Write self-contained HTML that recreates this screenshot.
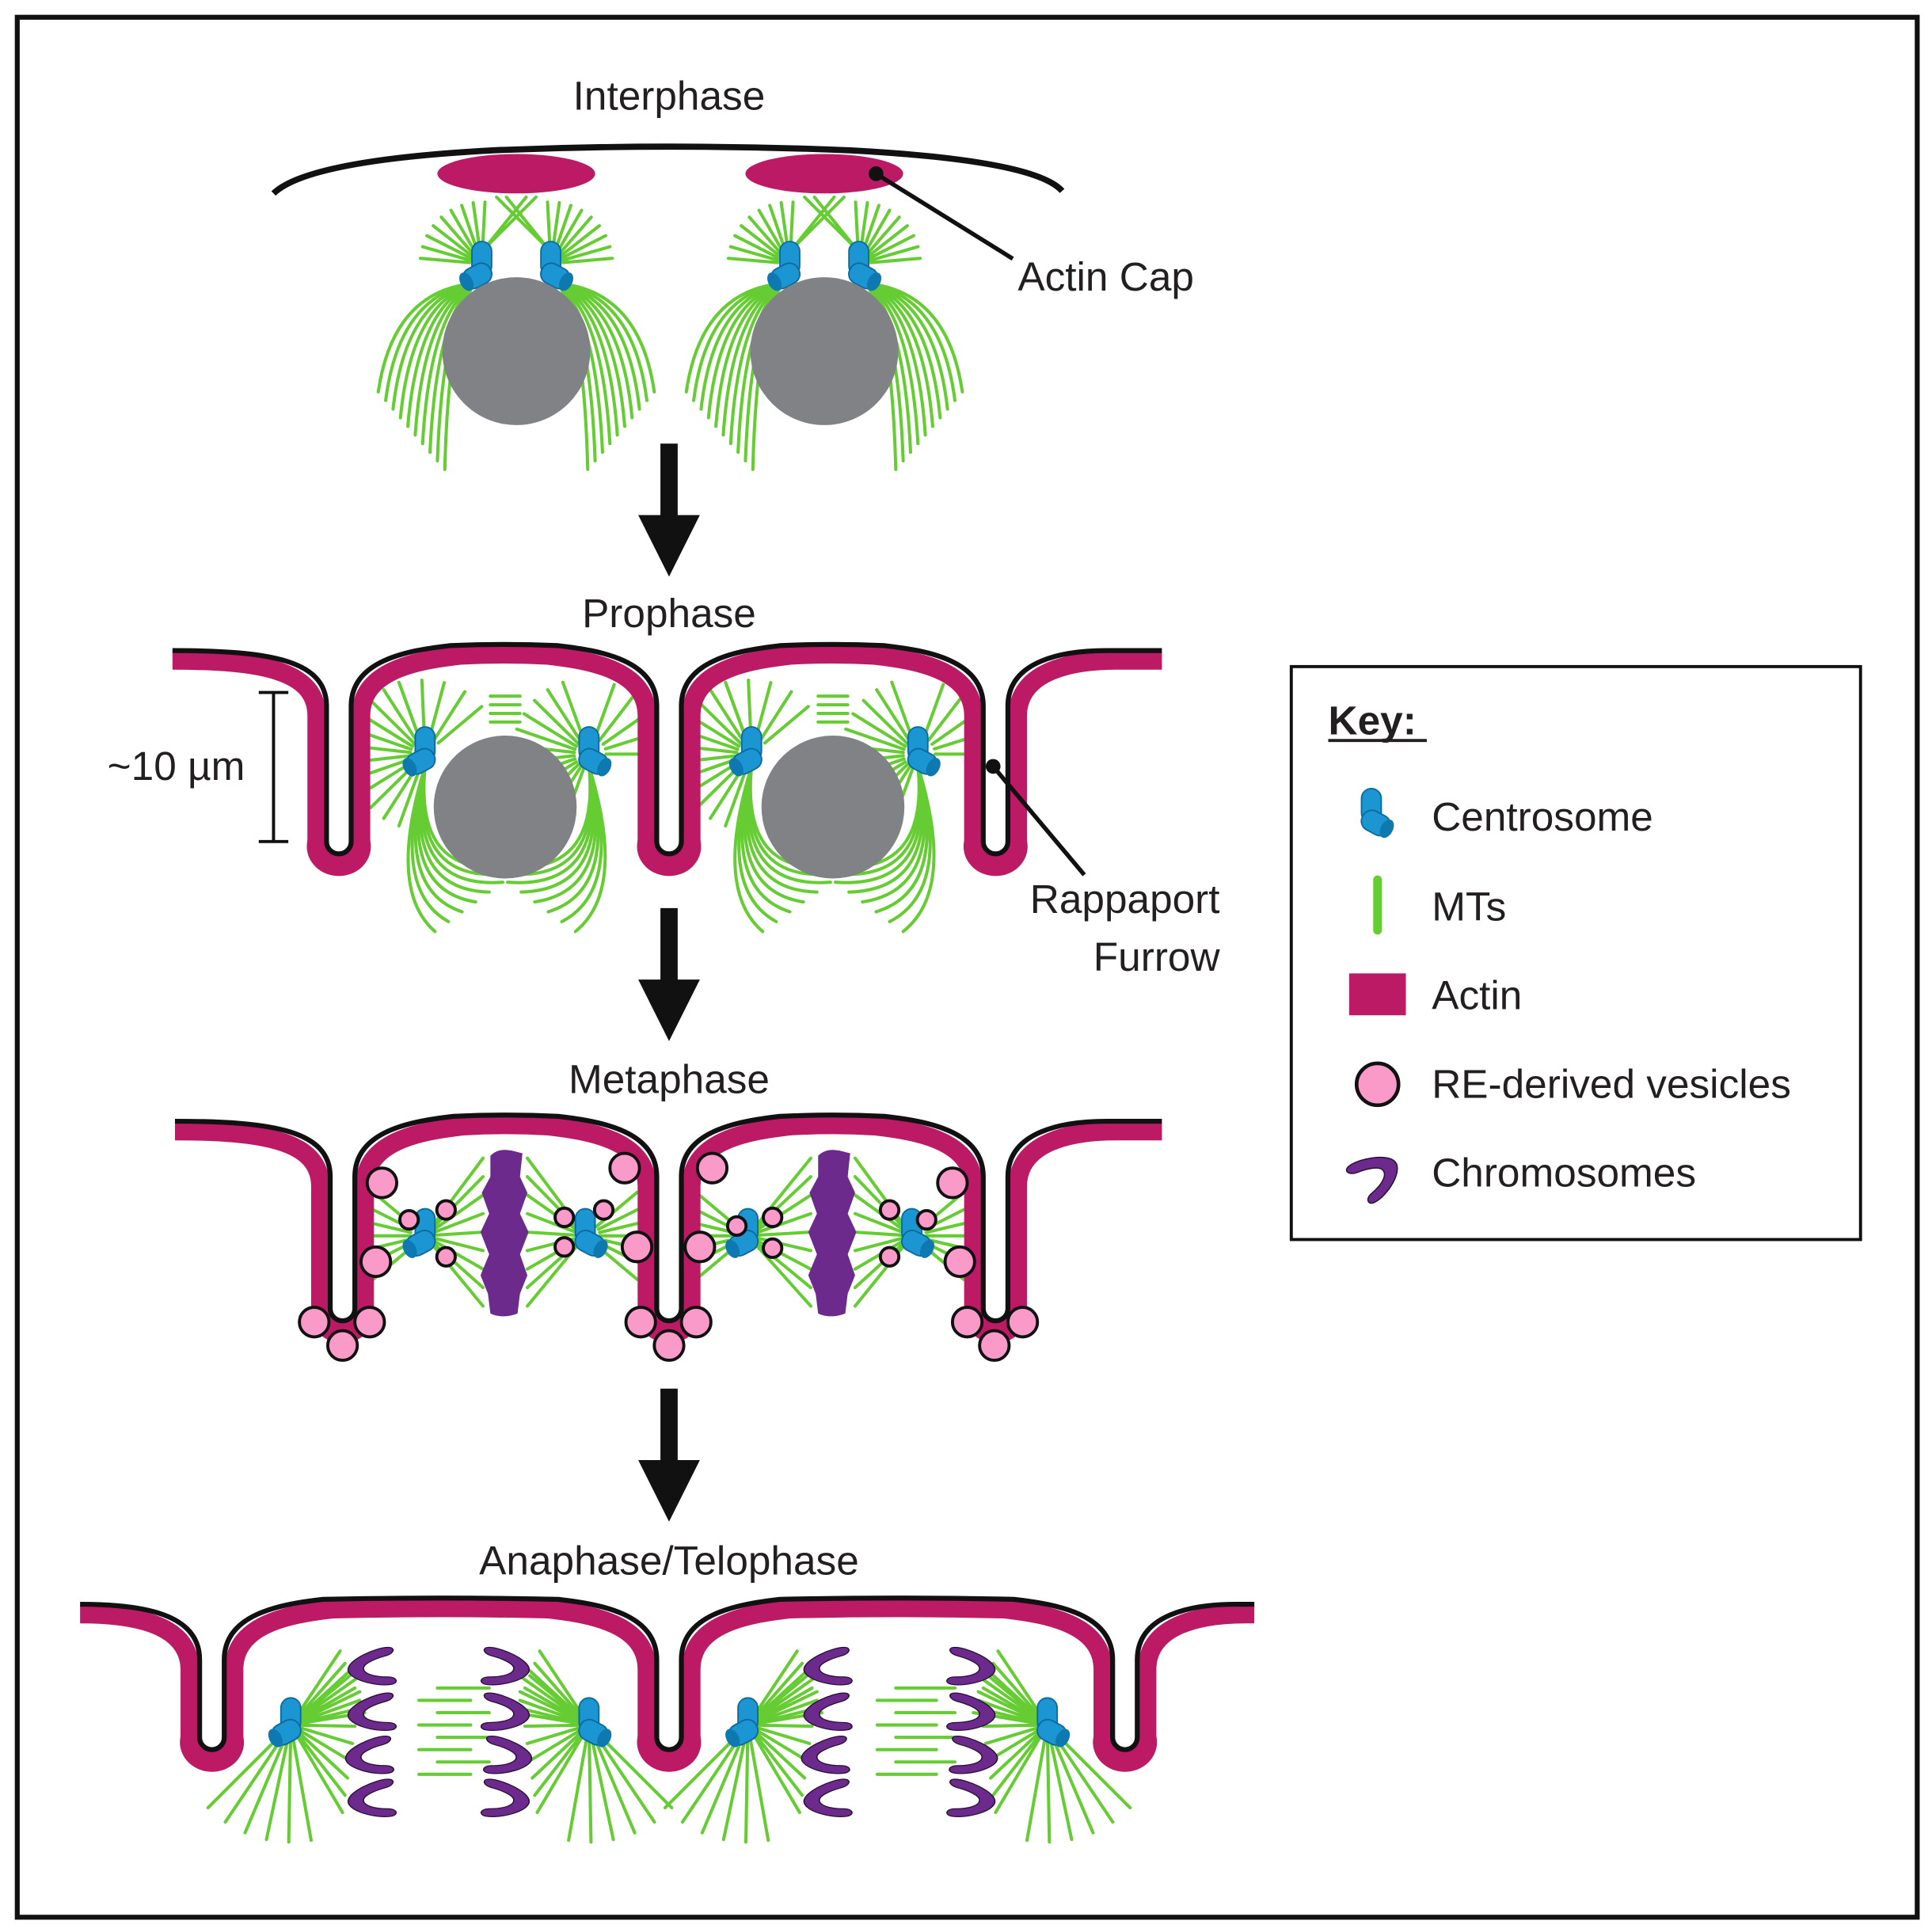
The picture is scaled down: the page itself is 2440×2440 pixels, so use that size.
<!DOCTYPE html>
<html><head><meta charset="utf-8"><style>
html,body{margin:0;padding:0;background:#fff}
svg{display:block}
text{font-family:"Liberation Sans",sans-serif;fill:#231f20}
</style></head><body>
<svg id="s" width="2440" height="2440" viewBox="0 0 1568 1568" xmlns="http://www.w3.org/2000/svg">
<rect x="0" y="0" width="1568" height="1568" fill="#fff"/>
<rect x="14" y="14" width="1542" height="1542" fill="none" stroke="#111" stroke-width="4"/>
<g id="mt" stroke="#66cc33" stroke-width="2.6" fill="none" stroke-linecap="round"></g>
<g id="mem"></g>
<g id="obj"></g>
<text x="543" y="89" font-size="33" text-anchor="middle">Interphase</text>
<ellipse cx="419" cy="141" rx="64" ry="16" fill="#bd1a66"/>
<ellipse cx="669" cy="141" rx="64" ry="16" fill="#bd1a66"/>
<path d="M222,157 Q250,130 400,122 Q543,116 690,122 Q840,130 862,155" fill="none" stroke="#111" stroke-width="5"/>
<line x1="711" y1="141" x2="822" y2="210" stroke="#111" stroke-width="3.5"/>
<circle cx="711" cy="141" r="6" fill="#111"/>
<text x="826" y="236" font-size="33">Actin Cap</text>
<circle cx="419" cy="285" r="60" fill="#808285"/>
<circle cx="669" cy="285" r="60" fill="#808285"/>
<g fill="#111">
<polygon points="536,360 550,360 550,418 568,418 543,468 518,418 536,418"/>
<polygon points="536,737 550,737 550,795 568,795 543,845 518,795 536,795"/>
<polygon points="536,1127 550,1127 550,1185 568,1185 543,1235 518,1185 536,1185"/>
</g>
<text x="543" y="509" font-size="33" text-anchor="middle">Prophase</text>
<circle cx="410" cy="655" r="58" fill="#808285"/>
<circle cx="676" cy="655" r="58" fill="#808285"/>
<g stroke="#111" stroke-width="2.5"><line x1="222" y1="562" x2="222" y2="683"/><line x1="210" y1="562" x2="234" y2="562"/><line x1="210" y1="683" x2="234" y2="683"/></g>
<text x="143" y="633" font-size="33" text-anchor="middle">~10 µm</text>
<text x="990" y="741" font-size="33" text-anchor="end">Rappaport</text>
<text x="990" y="788" font-size="33" text-anchor="end">Furrow</text>
<text x="543" y="887" font-size="33" text-anchor="middle">Metaphase</text>
<text x="543" y="1278" font-size="33" text-anchor="middle">Anaphase/Telophase</text>
<rect x="1048" y="541" width="462" height="465" fill="none" stroke="#111" stroke-width="2.5"/>
<text x="1078" y="596" font-size="33" font-weight="bold">Key:</text>
<line x1="1078" y1="601" x2="1158" y2="601" stroke="#231f20" stroke-width="2.5"/>
<text x="1162" y="674" font-size="33">Centrosome</text>
<text x="1162" y="747" font-size="33">MTs</text>
<text x="1162" y="819" font-size="33">Actin</text>
<text x="1162" y="891" font-size="33">RE-derived vesicles</text>
<text x="1162" y="963" font-size="33">Chromosomes</text>
<line x1="1118" y1="714" x2="1118" y2="755" stroke="#66cc33" stroke-width="7" stroke-linecap="round"/>
<rect x="1095" y="790" width="46" height="34" fill="#bd1a66"/>
<circle cx="1118" cy="880" r="17" fill="#f99ac9" stroke="#111" stroke-width="3"/>
</svg>
<script>
const NS="http://www.w3.org/2000/svg";
const mt=document.getElementById('mt'),mem=document.getElementById('mem'),obj=document.getElementById('obj');
function el(p,tag,a){const e=document.createElementNS(NS,tag);for(const k in a)e.setAttribute(k,a[k]);p.appendChild(e);return e;}
const MAG="#bd1a66";
function line(x1,y1,x2,y2){el(mt,'line',{x1,y1,x2,y2});}
function curve(x1,y1,cx,cy,x2,y2){el(mt,'path',{d:`M${x1},${y1} Q${cx},${cy} ${x2},${y2}`});}
function rays(x,y,a0,a1,n,r0,r1){for(let i=0;i<n;i++){const a=(a0+(a1-a0)*i/(n-1))*Math.PI/180;line(x+r0*Math.cos(a),y+r0*Math.sin(a),x+r1*Math.cos(a),y+r1*Math.sin(a));}}
function cent(x,y,f){const g=el(obj,'g',{transform:`translate(${x},${y}) scale(${f},1)`});
 el(g,'rect',{x:-8,y:-22,width:16,height:28,rx:8,fill:"#1b96d2",stroke:"#0c6a9c","stroke-width":1.2});
 el(g,'rect',{x:-6,y:-5,width:24,height:17,rx:8,fill:"#1b96d2",stroke:"#0c6a9c","stroke-width":1.2,transform:"rotate(28)"});
 el(g,'ellipse',{cx:16,cy:3.5,rx:5,ry:8,fill:"#0e78b0",transform:"rotate(28)"});}
function ves(x,y,r){el(obj,'circle',{cx:x,cy:y,r:r||11,fill:"#f99ac9",stroke:"#111","stroke-width":2.5});}
function chrom(x,y,f,sx,sy,rot){rot=rot||0;el(obj,'path',{transform:`translate(${x},${y}) rotate(${rot}) scale(${f*sx},${sy})`,fill:"#6b2a8c",stroke:"#2a1035","stroke-width":0.8,
 d:"M12,-16 C4,-16 -14,-6 -14,2 C-14,10 4,16 14,14 C19,13 18,8 12,8 C2,8 -4,5 -4,1 C-4,-3 4,-7 10,-9 C16,-11 17,-16 12,-16 Z"});}
function membrane(xs,y0,yb,xL,xR,hw,o,w,col){
 let p=`M${xL},${y0+o} `;
 xs.forEach((xc,i)=>{const a=xc-hw-o,b=xc+hw+o,r=hw+o;
  p+=`C${a-45},${y0+o} ${a},${y0+o+8} ${a},${y0+o+45} L${a},${yb} A${r},${r} 0 0 0 ${b},${yb} L${b},${y0+o+45} C${b},${y0+o+8} ${b+45},${y0+o} ${b+80},${y0+o-(i<xs.length-1?4:0)} `;
  if(i<xs.length-1){const mid=(xc+xs[i+1])/2;p+=`Q${mid},${y0+o-6} ${xs[i+1]-hw-o-80},${y0+o-4} `;}
 });
 p+=`L${xR},${y0+o}`;
 return el(mem,'path',{d:p,fill:"none",stroke:col,"stroke-width":w});
}
function stage(xs,y0,yb,xL,xR){
 xs.forEach(xc=>el(mem,'ellipse',{cx:xc,cy:yb+4,rx:26,ry:24,fill:MAG}));
 membrane(xs,y0,yb,xL,xR,10,8,15,MAG);
 xs.forEach(xc=>{el(mem,'rect',{x:xc-10,y:y0+10,width:20,height:yb-y0-10,fill:"#fff"});el(mem,'circle',{cx:xc,cy:yb,r:10,fill:"#fff"});});
 membrane(xs,y0,yb,xL,xR,10,0,4,"#111");
}
[419,669].forEach(X=>{
 [[X-28,222,-1],[X+28,222,1]].forEach(([cx,cy,s])=>{
  for(let i=0;i<9;i++){const a=(s<0?(185+i*11):(-5-i*11))*Math.PI/180;line(cx+10*Math.cos(a),cy-8+10*Math.sin(a),cx+50*Math.cos(a),cy-8+50*Math.sin(a));}
  for(let i=0;i<2;i++){line(cx-s*2,cy-20,X-s*(8+i*8),160);}
  for(let i=0;i<10;i++){const ex=X+s*(112-i*6),ey=318+i*7;curve(cx+s*6,cy+8,X+s*(100-i*5),cy+14+i*3,ex,ey);}
 });
});
cent(391,218,-1);cent(447,218,1);cent(641,218,-1);cent(697,218,1);
stage([275,543,808],528,683,140,943);
[[345,612,-1,410],[478,612,1,410],[610,612,-1,676],[745,612,1,676]].forEach(([cx,cy,s,X])=>{
 rays(cx,cy,s<0?110:-250,s<0?250:-110,12,12,62);
 rays(cx,cy,-110+(s<0?0:40),-40+(s<0?0:40),5,14,60);
 for(let i=0;i<8;i++){const ex=X+s*(-20+i*11),ey=700+i*8;curve(cx,cy+10,cx+s*(10+i*3),cy+110,ex,ey);}
});
[[410,565],[676,565]].forEach(([x,y])=>{for(let i=0;i<4;i++)line(x-12,y+i*7,x+12,y+i*7);});
cent(345,612,-1);cent(478,612,1);cent(610,612,-1);cent(745,612,1);
el(obj,'line',{x1:806,y1:622,x2:880,y2:710,stroke:"#111","stroke-width":3.5});
el(obj,'circle',{cx:806,cy:622,r:6,fill:"#111"});
stage([278,543,808],910,1062,142,943);
[[345,1003,-1,410],[475,1003,1,410],[607,1003,-1,676],[740,1003,1,676]].forEach(([cx,cy,s,X])=>{
 for(let i=0;i<9;i++){line(cx,cy,X+(s<0?-18:18),940+i*15);}
 rays(cx,cy,s<0?140:-40,s<0?220:40,7,12,55);
});
[[410],[676]].forEach(([x])=>el(obj,'path',{fill:"#6b2a8c",d:`M${x-12},938 C${x-4},930 ${x+6},934 ${x+14},936 L${x+12},955 L${x+18},968 L${x+12},985 L${x+19},1000 L${x+12},1018 L${x+18},1035 L${x+12},1050 L${x+10},1066 C${x},1070 ${x-8},1068 ${x-12},1066 L${x-14},1050 L${x-20},1035 L${x-13},1018 L${x-20},1000 L${x-13},985 L${x-19},968 L${x-12},955 Z`}));
cent(345,1003,-1);cent(475,1003,1);cent(607,1003,-1);cent(740,1003,1);
[[310,960],[305,1024],[507,948],[517,1012],[578,948],[568,1012],[773,960],[779,1024],
 [255,1073],[300,1073],[278,1092],[520,1073],[565,1073],[543,1092],[785,1073],[830,1073],[807,1092]].forEach(([x,y])=>ves(x,y,12));
[[332,990],[362,982],[362,1020],[458,988],[458,1012],[490,982],[598,995],[627,988],[627,1013],[722,982],[722,1020],[752,990]].forEach(([x,y])=>ves(x,y,7.5));
stage([172,543,913],1302,1410,65,1018);
[[236,1400,-1],[478,1400,1],[607,1400,-1],[850,1400,1]].forEach(([cx,cy,s])=>{
 for(let i=0;i<10;i++){line(cx,cy,cx+s*(-60+i*2),1345+i*14);}
 for(let i=0;i<6;i++){line(cx,cy,cx-s*(40+i*4),1340+i*10);}
 rays(cx,cy,s<0?80:100,s<0?135:45,6,12,95);
});
[[340,392],[712,770]].forEach(([a,b])=>{for(let i=0;i<8;i++){line(a+(i%2?0:15),1370+i*10,b+(i%2?-10:5),1370+i*10);}});
[[300,1],[412,-1],[670,1],[790,-1]].forEach(([x,f])=>{[1353,1390,1425,1460].forEach((y,i)=>chrom(x+(i==2?-2:0)*f,y,f,1.25,1.0));});
cent(236,1400,-1);cent(478,1400,1);cent(607,1400,-1);cent(850,1400,1);
cent(1113,662,1);
chrom(1118,952,-1,1.2,1.2,-40);
</script>
</body></html>
